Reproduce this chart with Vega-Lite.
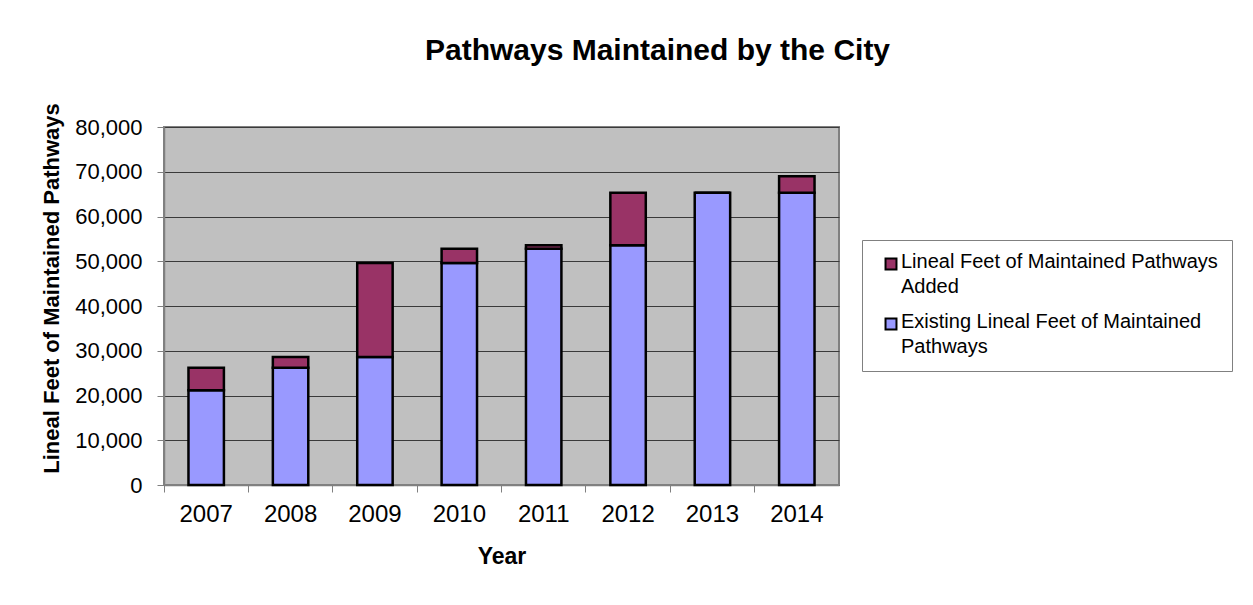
{
  "$schema": "https://vega.github.io/schema/vega-lite/v6.json",
  "width": 675,
  "height": 358,
  "autosize": "none",
  "padding": {"left": 164, "top": 127, "right": 414, "bottom": 120},
  "background": "white",
  "title": {
    "text": "Pathways Maintained by the City",
    "font": "Liberation Sans",
    "fontSize": 30,
    "fontWeight": "bold",
    "color": "black",
    "anchor": "middle",
    "frame": "group",
    "dx": 156,
    "offset": 37
  },
  "data": {
    "values": [
      {"year": "2007", "series": "Existing Lineal Feet of Maintained Pathways", "value": 21200, "order": 0},
      {"year": "2007", "series": "Lineal Feet of Maintained Pathways Added", "value": 5000, "order": 1},
      {"year": "2008", "series": "Existing Lineal Feet of Maintained Pathways", "value": 26200, "order": 0},
      {"year": "2008", "series": "Lineal Feet of Maintained Pathways Added", "value": 2400, "order": 1},
      {"year": "2009", "series": "Existing Lineal Feet of Maintained Pathways", "value": 28600, "order": 0},
      {"year": "2009", "series": "Lineal Feet of Maintained Pathways Added", "value": 21000, "order": 1},
      {"year": "2010", "series": "Existing Lineal Feet of Maintained Pathways", "value": 49600, "order": 0},
      {"year": "2010", "series": "Lineal Feet of Maintained Pathways Added", "value": 3200, "order": 1},
      {"year": "2011", "series": "Existing Lineal Feet of Maintained Pathways", "value": 52800, "order": 0},
      {"year": "2011", "series": "Lineal Feet of Maintained Pathways Added", "value": 800, "order": 1},
      {"year": "2012", "series": "Existing Lineal Feet of Maintained Pathways", "value": 53600, "order": 0},
      {"year": "2012", "series": "Lineal Feet of Maintained Pathways Added", "value": 11700, "order": 1},
      {"year": "2013", "series": "Existing Lineal Feet of Maintained Pathways", "value": 65300, "order": 0},
      {"year": "2013", "series": "Lineal Feet of Maintained Pathways Added", "value": 0, "order": 1},
      {"year": "2014", "series": "Existing Lineal Feet of Maintained Pathways", "value": 65300, "order": 0},
      {"year": "2014", "series": "Lineal Feet of Maintained Pathways Added", "value": 3700, "order": 1}
    ]
  },
  "mark": {"type": "bar", "stroke": "black", "strokeWidth": 2.5, "width": {"band": 0.42}},
  "encoding": {
    "x": {
      "field": "year",
      "type": "ordinal",
      "scale": {"paddingInner": 0, "paddingOuter": 0},
      "axis": {
        "title": "Year",
        "titleFont": "Liberation Sans",
        "titleFontSize": 23,
        "titleFontWeight": "bold",
        "titleColor": "black",
        "titlePadding": 19,
        "labelAngle": 0,
        "labelFont": "Liberation Sans",
        "labelFontSize": 24,
        "labelColor": "black",
        "labelPadding": 10,
        "bandPosition": 0,
        "tickSize": 7,
        "tickColor": "#808080",
        "domainColor": "#808080",
        "domainWidth": 1.5,
        "grid": false
      }
    },
    "y": {
      "field": "value",
      "type": "quantitative",
      "stack": "zero",
      "scale": {"domain": [0, 80000], "nice": false},
      "axis": {
        "title": "Lineal Feet of Maintained Pathways",
        "titleFont": "Liberation Sans",
        "titleFontSize": 22,
        "titleFontWeight": "bold",
        "titleColor": "black",
        "titleX": -113,
        "titleY": 161,
        "titleBaseline": "middle",
        "values": [0, 10000, 20000, 30000, 40000, 50000, 60000, 70000, 80000],
        "format": ",d",
        "labelFont": "Liberation Sans",
        "labelFontSize": 22,
        "labelColor": "black",
        "labelPadding": 15,
        "tickSize": 7,
        "tickColor": "#808080",
        "domainColor": "#808080",
        "domainWidth": 1.5,
        "grid": true,
        "gridColor": "#3a3a3a",
        "gridWidth": 1
      }
    },
    "color": {
      "field": "series",
      "type": "nominal",
      "scale": {
        "domain": ["Lineal Feet of Maintained Pathways Added", "Existing Lineal Feet of Maintained Pathways"],
        "range": ["#993366", "#9999FF"]
      },
      "legend": {
        "orient": "none",
        "legendX": 698,
        "legendY": 113,
        "title": null,
        "labelFont": "Liberation Sans",
        "labelFontSize": 20,
        "labelColor": "black",
        "labelLimit": 500,
        "labelBaseline": "alphabetic",
        "labelOffset": 0,
        "labelExpr": "datum.label == 'Lineal Feet of Maintained Pathways Added' ? ['Lineal Feet of Maintained Pathways', 'Added'] : ['Existing Lineal Feet of Maintained', 'Pathways']",
        "symbolType": "square",
        "symbolSize": 120,
        "symbolStrokeColor": "black",
        "symbolStrokeWidth": 2,
        "symbolOpacity": 1,
        "symbolOffset": 5,
        "strokeColor": "#808080",
        "fillColor": "white",
        "padding": 14,
        "rowPadding": 15,
        "encode": {"labels": {"update": {"dy": {"value": 4}}}}
      }
    },
    "order": {"field": "order"}
  },
  "config": {
    "view": {"fill": "#C0C0C0", "stroke": "#808080", "strokeWidth": 2},
    "font": "Liberation Sans",
    "style": {"guide-label": {"lineHeight": 25}}
  }
}
